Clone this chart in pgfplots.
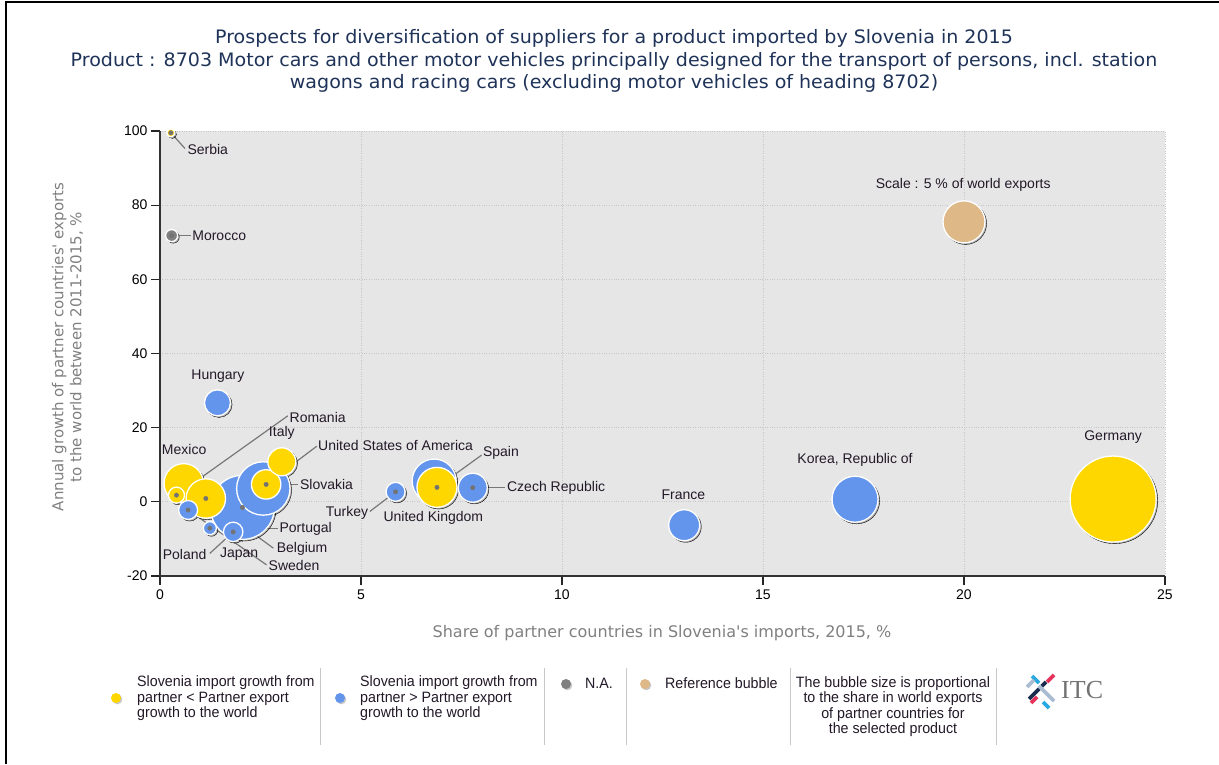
\documentclass[border=0pt]{standalone}
\usepackage{pgfplots}
\usepackage{pgfplotstable}
\pgfplotsset{compat=1.18}
\usepackage{fontspec}
\setmainfont{Liberation Sans}
\newfontfamily\titlefont[FakeStretch=1.03]{DejaVu Sans}
\newfontfamily\axfont{DejaVu Sans}
\newfontfamily\legfont[FakeStretch=0.95]{Liberation Sans}
\newfontfamily\itcfont{Liberation Serif}
\definecolor{cyellow}{RGB}{255,215,0}
\definecolor{cblue}{RGB}{100,149,237}
\definecolor{cgrey}{RGB}{128,128,128}
\definecolor{ctan}{RGB}{222,184,135}
\definecolor{bgc}{RGB}{230,230,230}
\definecolor{gridc}{RGB}{198,198,198}
\definecolor{titc}{RGB}{31,51,89}
\definecolor{labc}{RGB}{35,25,40}
\definecolor{axtc}{RGB}{128,128,128}
\definecolor{sepc}{RGB}{200,200,200}
\definecolor{leadc}{RGB}{120,120,120}
\definecolor{itcsky}{RGB}{41,169,225}
\definecolor{itcnavy}{RGB}{27,45,79}
\definecolor{itcpink}{RGB}{229,51,92}
\definecolor{itcgb}{RGB}{169,188,210}

% x = share in Slovenia's imports (%), y = growth (%), w = share in world exports (%)
% k: 1 = import growth < export growth, 2 = import growth > export growth, 3 = N.A., 4 = reference
\pgfplotstableread{
name x y w k
Germany 23.71 0.75 20.97 1
Japan 2.05 -1.5 11.61 2
USA 2.57 3.6 8.08 2
Korea 17.29 0.7 6.00 2
UK 6.82 5.6 5.49 2
Reference 20.00 75.5 5.00 4
Spain 6.89 3.9 4.54 1
Mexico 0.59 5.0 4.40 1
Belgium 1.14 0.9 4.40 1
France 13.04 -6.3 2.72 2
Slovakia 2.64 4.7 2.45 1
Czech 7.78 3.8 2.38 2
Italy 3.03 10.8 2.22 1
Hungary 1.43 26.7 1.92 2
Poland 1.82 -8.1 1.07 2
Sweden 0.70 -2.2 1.02 2
Turkey 5.86 2.7 1.02 2
Romania 0.41 1.8 0.73 1
Portugal 1.24 -7.1 0.48 2
Morocco 0.29 71.8 0.41 3
Serbia 0.27 99.5 0.18 1
}\bubbles

\begin{document}
\begin{tikzpicture}
\useasboundingbox (0,0) rectangle (1219pt,764pt);
\fill[white] (0,0) rectangle (1219pt,764pt);
\draw[black, line width=2pt] (6pt,0pt) -- (6pt,761.5pt) -- (1219pt,761.5pt);

\begin{axis}[
  at={(160pt,188pt)}, anchor=south west,
  scale only axis, width=1005pt, height=445pt,
  xmin=0, xmax=25, ymin=-20, ymax=100,
  xtick={0,5,...,25}, ytick={-20,0,...,100},
  axis background/.style={fill=bgc},
  grid=major, major grid style={gridc, dotted, line width=0.9pt},
  axis x line*=bottom, axis y line*=left,
  axis line style={black!80, line width=1.1pt},
  tick style={black!85, line width=1.1pt},
  tick align=outside, major tick length=9pt,
  /pgf/number format/assume math mode=true,
  ticklabel style={font=\fontsize{14}{16}\selectfont, black},
  xticklabel style={yshift=-1pt},
  clip=false,
]
% shadows
\addplot[scatter, only marks, mark=*,
  visualization depends on={9.391*sqrt(\thisrow{w})\as\rad},
  scatter/@pre marker code/.code={\scope[mark size=\rad pt, fill=black, fill opacity=0.22, draw=none, xshift=1.6pt, yshift=-1.6pt]},
  scatter/@post marker code/.code={\endscope},
  point meta=\thisrow{w}] table[x=x,y=y]{\bubbles};
% bubbles
\addplot[scatter, only marks, mark=*,
  visualization depends on={9.391*sqrt(\thisrow{w})\as\rad},
  visualization depends on={\thisrow{k}\as\cls},
  scatter/@pre marker code/.code={%
    \pgfmathtruncatemacro\ci{\cls}%
    \ifcase\ci\def\cc{cyellow}\or\def\cc{cyellow}\or\def\cc{cblue}\or\def\cc{cgrey}\else\def\cc{ctan}\fi
    \scope[mark size=\rad pt, fill=\cc, draw=white, line width=1.3pt]},
  scatter/@post marker code/.code={\endscope},
  point meta=\thisrow{w}] table[x=x,y=y]{\bubbles};

% leader lines
\begin{scope}[leadc, line width=1.2pt]
\draw (axis cs:0.27,99.5) -- (axis cs:0.62,95.3);
\draw (axis cs:0.29,71.8) -- (axis cs:0.76,71.8);
\draw (axis cs:0.41,1.8) -- (axis cs:3.18,23.2);
\draw (axis cs:2.64,4.7) -- (axis cs:3.90,15.0);
\draw (axis cs:2.64,4.7) -- (axis cs:3.44,4.7);
\draw (axis cs:6.89,3.9) -- (axis cs:8.00,12.6);
\draw (axis cs:7.78,3.8) -- (axis cs:8.58,3.8);
\draw (axis cs:5.86,2.7) -- (axis cs:5.22,-2.6);
\draw (axis cs:1.24,-7.1) -- (axis cs:2.94,-7.1);
\draw (axis cs:1.14,0.9) -- (axis cs:2.82,-12.5);
\draw (axis cs:0.70,-2.2) -- (axis cs:2.65,-17.0);
\draw (axis cs:1.82,-8.1) -- (axis cs:1.24,-13.9);
\draw (axis cs:2.05,-1.5) -- (axis cs:2.05,-10.8);
\end{scope}
\addplot[only marks, mark=*, mark size=2.2pt, color=black!55] coordinates {
(0.27,99.5) (0.29,71.8) (0.41,1.8) (2.64,4.7) (6.89,3.9) (7.78,3.8) (5.86,2.7)
(1.24,-7.1) (1.14,0.9) (0.70,-2.2) (1.82,-8.1) (2.05,-1.5)};

% labels
\begin{scope}[every node/.style={font=\fontsize{14}{16}\selectfont, text=labc, inner sep=0pt}]
\node[anchor=west] at (axis cs:0.68,95.1) {Serbia};
\node[anchor=west] at (axis cs:0.80,71.7) {Morocco};
\node at (axis cs:1.44,33.9) {Hungary};
\node at (axis cs:0.60,14.2) {Mexico};
\node[anchor=west] at (axis cs:3.22,22.8) {Romania};
\node at (axis cs:3.03,18.5) {Italy};
\node[anchor=west] at (axis cs:3.93,15.1) {United States of America};
\node[anchor=west] at (axis cs:3.48,4.7) {Slovakia};
\node[anchor=west] at (axis cs:8.03,13.1) {Spain};
\node[anchor=west] at (axis cs:8.63,3.7) {Czech Republic};
\node[anchor=east] at (axis cs:5.18,-3.0) {Turkey};
\node at (axis cs:6.80,-4.2) {United Kingdom};
\node at (axis cs:13.02,2.0) {France};
\node at (axis cs:17.29,11.3) {Korea, Republic of};
\node at (axis cs:23.71,17.4) {Germany};
\node at (axis cs:19.98,85.6) {Scale : 5 \% of world exports};
\node[anchor=west] at (axis cs:2.97,-7.2) {Portugal};
\node[anchor=west] at (axis cs:2.90,-12.7) {Belgium};
\node[anchor=west] at (axis cs:2.70,-17.2) {Sweden};
\node[anchor=east] at (axis cs:1.16,-14.2) {Poland};
\node at (axis cs:1.97,-14.2) {Japan};
\end{scope}
\end{axis}

\begin{scope}[x=1pt,y=1pt]
% title
\node[font=\titlefont\fontsize{18.5}{22.5}\selectfont, text=titc, align=center] at (614,703)
 {Prospects for diversification of suppliers for a product imported by Slovenia in 2015\\
  Product : 8703 Motor cars and other motor vehicles principally designed for the transport of persons, incl. station\\
  wagons and racing cars (excluding motor vehicles of heading 8702)};
% axis titles
\node[rotate=90, align=center, font=\axfont\fontsize{15}{18}\selectfont, text=axtc] at (67.5,417)
 {Annual growth of partner countries' exports\\to the world between 2011-2015, \%};
\node[font=\axfont\fontsize{16}{18}\selectfont, text=axtc] at (662,131)
 {Share of partner countries in Slovenia's imports, 2015, \%};

% legend
\foreach \xx in {320,544,626,790,996} \draw[sepc, line width=1pt] (\xx,96) -- (\xx,19);
\fill[black!22] (117.3,64.7) circle (5); \fill[cyellow] (116,66) circle (5);
\fill[black!22] (341.3,64.7) circle (5); \fill[cblue] (340,66) circle (5);
\fill[black!22] (567.3,78.7) circle (5); \fill[cgrey] (566,80) circle (5);
\fill[black!22] (646.3,78.7) circle (5); \fill[ctan] (645,80) circle (5);
\begin{scope}[every node/.style={font=\legfont\fontsize{15}{15.5}\selectfont, text=labc, inner sep=0pt}]
\node[anchor=west, align=left] at (137,65.5) {Slovenia import growth from\\partner < Partner export\\growth to the world};
\node[anchor=west, align=left] at (360,65.5) {Slovenia import growth from\\partner > Partner export\\growth to the world};
\node[anchor=west] at (585,81) {N.A.};
\node[anchor=west] at (665,81) {Reference bubble};
\node[align=center] at (893,57.5) {The bubble size is proportional\\to the share in world exports\\of partner countries for\\the selected product};
\end{scope}
% ITC logo
\begin{scope}[line width=3.6pt]
\draw[itcnavy] (1029,65) -- (1046,82);
\draw[itcgb] (1039,78) -- (1054,63);
\draw[itcsky] (1032,88) -- (1039,81);
\draw[itcgb] (1027,77) -- (1034,84);
\draw[itcpink] (1047,82) -- (1054,89);
\draw[itcpink] (1031,61) -- (1037,67);
\draw[itcsky] (1043,62) -- (1049,56);
\end{scope}
\node[font=\itcfont\fontsize{26}{28}\selectfont, text=black!55, anchor=west, inner sep=0pt] at (1061,74) {ITC};
\end{scope}
\end{tikzpicture}
\end{document}
